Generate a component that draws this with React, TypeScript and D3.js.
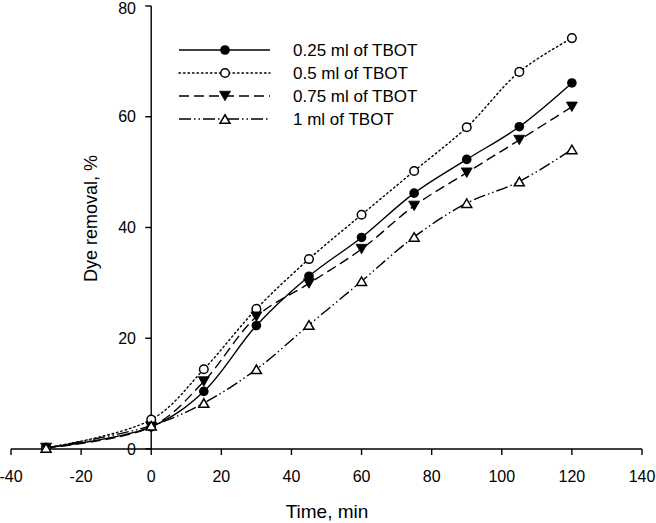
import React from "react";
import * as d3 from "d3";

const times = [-30, 0, 15, 30, 45, 60, 75, 90, 105, 120];
const s025 = [0.2, 4, 10.4, 22.3, 31.2, 38.2, 46.2, 52.3, 58.2, 66.1];
const s05 = [0.2, 5.3, 14.4, 25.3, 34.3, 42.3, 50.2, 58.1, 68.1, 74.2];
const s075 = [0.2, 4, 12.2, 23.9, 29.9, 36.1, 43.9, 49.9, 55.8, 61.8];
const s1 = [0.2, 4.2, 8.3, 14.4, 22.4, 30.3, 38.3, 44.4, 48.3, 54.1];
const seriesNames = ["0.25 ml of TBOT", "0.5 ml of TBOT", "0.75 ml of TBOT", "1 ml of TBOT"];
const xTicks = [-40, -20, 0, 20, 40, 60, 80, 100, 120, 140];
const yTicks = [0, 20, 40, 60, 80];

const FONT = "'Liberation Sans', Arial, Helvetica, sans-serif";

type Kind = "fcircle" | "ocircle" | "dtri" | "utri";

function Marker({ kind, cx, cy }: { kind: Kind; cx: number; cy: number }) {
  const sw = 1.5;
  if (kind === "fcircle") return <circle cx={cx} cy={cy} r={4.8} fill="#000" />;
  if (kind === "ocircle")
    return <circle cx={cx} cy={cy} r={4.3} fill="#fff" stroke="#000" strokeWidth={sw} />;
  const w = 5.5;
  const h = 9.5;
  if (kind === "dtri") {
    const p = `${cx - w},${cy - h / 2} ${cx + w},${cy - h / 2} ${cx},${cy + h / 2}`;
    return <polygon points={p} fill="#000" stroke="#000" strokeWidth={0.8} />;
  }
  const p = `${cx - w + 0.5},${cy + h / 2 - 0.5} ${cx + w - 0.5},${cy + h / 2 - 0.5} ${cx},${cy - h / 2 + 0.5}`;
  return <polygon points={p} fill="#fff" stroke="#000" strokeWidth={sw} strokeLinejoin="miter" />;
}

export default function App() {
  const W = 656;
  const H = 523;
  const x = d3.scaleLinear().domain([-40, 140]).range([11, 642]);
  const y = d3.scaleLinear().domain([0, 80]).range([449, 6]);

  const series: { vals: number[]; kind: Kind; dash: string }[] = [
    { vals: s025, kind: "fcircle", dash: "none" },
    { vals: s05, kind: "ocircle", dash: "1.5,3" },
    { vals: s075, kind: "dtri", dash: "10,5" },
    { vals: s1, kind: "utri", dash: "12,3,1.5,3,1.5,3" },
  ];

  const line = d3
    .line<[number, number]>()
    .x((d) => x(d[0]))
    .y((d) => y(d[1]))
    .curve(d3.curveCatmullRom.alpha(0.5));

  const x0 = x(0);
  const y0 = y(0);

  const legX1 = 179;
  const legX2 = 270;
  const legMx = 225;
  const legTx = 293;
  const legY0 = 50;
  const legDy = 23;

  return (
    <svg
      width={W}
      height={H}
      style={{ position: "absolute", left: 0, top: 0, background: "#fff" }}
      fontFamily={FONT}
    >
      <rect x={0} y={0} width={W} height={H} fill="#fff" />
      {series.map((s, i) => (
        <path
          key={"l" + i}
          d={line(times.map((t, j) => [t, s.vals[j]] as [number, number])) || ""}
          fill="none"
          stroke="#000"
          strokeWidth={1.4}
          strokeDasharray={s.dash}
          strokeLinecap={s.dash === "1.5,3" ? "round" : "butt"}
        />
      ))}
      <line x1={x(-40)} x2={x(140)} y1={y0} y2={y0} stroke="#000" strokeWidth={1.4} />
      <line x1={x0} x2={x0} y1={y(0)} y2={y(80)} stroke="#000" strokeWidth={1.4} />
      {xTicks.map((t) => (
        <g key={"xt" + t}>
          <line x1={x(t)} x2={x(t)} y1={y0} y2={y0 + 6} stroke="#000" strokeWidth={1.4} />
          <text x={x(t)} y={481.5} textAnchor="middle" fontSize={16} fill="#000">
            {t}
          </text>
        </g>
      ))}
      {yTicks.map((t) => (
        <g key={"yt" + t}>
          <line x1={x0 - 6} x2={x0} y1={y(t)} y2={y(t)} stroke="#000" strokeWidth={1.4} />
          <text x={136} y={Math.max(y(t) + 5.5, 13.5)} textAnchor="end" fontSize={16} fill="#000">
            {t}
          </text>
        </g>
      ))}
      {series.map((s, i) =>
        times.map((t, j) => (
          <Marker key={"m" + i + "-" + j} kind={s.kind} cx={x(t)} cy={y(s.vals[j])} />
        ))
      )}
      <text x={327} y={518} textAnchor="middle" fontSize={19} fill="#000">
        Time, min
      </text>
      <text
        transform={`translate(97,218.5) rotate(-90)`}
        textAnchor="middle"
        fontSize={18}
        fill="#000"
      >
        Dye removal, %
      </text>
      {series.map((s, i) => {
        const ly = legY0 + i * legDy;
        return (
          <g key={"lg" + i}>
            <line
              x1={legX1}
              x2={legX2}
              y1={ly}
              y2={ly}
              stroke="#000"
              strokeWidth={1.4}
              strokeDasharray={s.dash}
              strokeLinecap={s.dash === "1.5,3" ? "round" : "butt"}
            />
            <Marker kind={s.kind} cx={legMx} cy={ly} />
            <text x={legTx} y={ly + 6} fontSize={17} fill="#000">
              {seriesNames[i]}
            </text>
          </g>
        );
      })}
    </svg>
  );
}
